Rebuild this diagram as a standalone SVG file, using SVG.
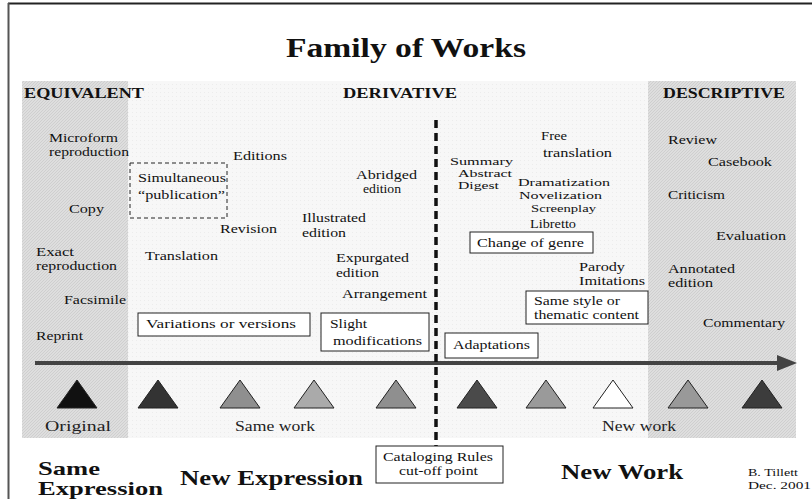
<svg xmlns="http://www.w3.org/2000/svg" width="812" height="499" viewBox="0 0 812 499">
<style>
text{font-family:"Liberation Serif","Times New Roman",serif;fill:#111}
.t{font-size:13px}
.n{font-size:11px}
.m{font-size:11.5px}
.h{font-size:15px;font-weight:bold}
.b{font-size:22px;font-weight:bold}
.b2{font-size:19px;font-weight:bold}
.l{font-size:15px;fill:#222}
.s{font-size:11px}
.box{fill:#fff;stroke:#222;stroke-width:1}
.tri{stroke:#222;stroke-width:1}
</style>
<defs>
<pattern id="hatch" width="3" height="3" patternUnits="userSpaceOnUse">
<rect width="3" height="3" fill="#dedede"/>
<path d="M0 3L3 0" stroke="#cfcfcf" stroke-width="1"/>
</pattern>
<pattern id="dots" width="4" height="4" patternUnits="userSpaceOnUse">
<rect width="4" height="4" fill="#f7f7f7"/>
<rect width="1" height="1" fill="#ececec"/>
</pattern>
<marker id="ah" viewBox="0 0 10 8" refX="0" refY="4" markerWidth="5" markerHeight="4" orient="auto" markerUnits="strokeWidth">
<path d="M0 0L10 4L0 8Z" fill="#444"/>
</marker>
</defs>
<rect width="812" height="499" fill="#fff"/>
<g id="frame">
<line x1="8" y1="3.5" x2="812" y2="3.5" stroke="#222" stroke-width="2"/>
<line x1="8.5" y1="3" x2="8.5" y2="499" stroke="#555" stroke-width="2"/>
</g>
<g id="bands">
<rect x="128" y="81" width="520" height="357" fill="url(#dots)"/>
<rect x="22" y="81" width="106" height="357" fill="url(#hatch)"/>
<rect x="648" y="81" width="148" height="357" fill="url(#hatch)"/>
</g>
<text id="title" x="286" y="57" font-size="28" font-weight="bold" textLength="240" lengthAdjust="spacingAndGlyphs">Family of Works</text>
<g id="headers">
<text class="h" x="24" y="98" textLength="120" lengthAdjust="spacingAndGlyphs">EQUIVALENT</text>
<text class="h" x="343" y="98" textLength="114" lengthAdjust="spacingAndGlyphs">DERIVATIVE</text>
<text class="h" x="663" y="98" textLength="122" lengthAdjust="spacingAndGlyphs">DESCRIPTIVE</text>
</g>
<g id="connectors">
<line x1="35" y1="363" x2="777" y2="363" stroke="#444" stroke-width="4" marker-end="url(#ah)"/>
<line x1="436" y1="120" x2="436" y2="446" stroke="#111" stroke-width="3.5" stroke-dasharray="8 5"/>
</g>
<g id="equivalent">
<text class="t" x="49" y="142" textLength="69" lengthAdjust="spacingAndGlyphs">Microform</text>
<text class="t" x="49" y="156" textLength="80" lengthAdjust="spacingAndGlyphs">reproduction</text>
<text class="t" x="69" y="213" textLength="35" lengthAdjust="spacingAndGlyphs">Copy</text>
<text class="t" x="36" y="256" textLength="38" lengthAdjust="spacingAndGlyphs">Exact</text>
<text class="t" x="36" y="270" textLength="81" lengthAdjust="spacingAndGlyphs">reproduction</text>
<text class="t" x="64" y="304" textLength="62" lengthAdjust="spacingAndGlyphs">Facsimile</text>
<text class="t" x="36" y="340" textLength="47" lengthAdjust="spacingAndGlyphs">Reprint</text>
</g>
<g id="derivative-same">
<rect x="130" y="163" width="97" height="55" fill="none" stroke="#222" stroke-width="1" stroke-dasharray="4 3"/>
<text class="t" x="138" y="182" textLength="88" lengthAdjust="spacingAndGlyphs">Simultaneous</text>
<text class="t" x="138" y="199" textLength="87" lengthAdjust="spacingAndGlyphs">“publication”</text>
<text class="t" x="233" y="160" textLength="54" lengthAdjust="spacingAndGlyphs">Editions</text>
<text class="t" x="220" y="233" textLength="57" lengthAdjust="spacingAndGlyphs">Revision</text>
<text class="t" x="145" y="260" textLength="73" lengthAdjust="spacingAndGlyphs">Translation</text>
<rect class="box" x="138" y="313" width="172" height="23"/>
<text class="t" x="146" y="328" textLength="150" lengthAdjust="spacingAndGlyphs">Variations or versions</text>
<text class="t" x="356" y="179" textLength="61" lengthAdjust="spacingAndGlyphs">Abridged</text>
<text class="t" x="363" y="193" textLength="38" lengthAdjust="spacingAndGlyphs">edition</text>
<text class="t" x="302" y="222" textLength="64" lengthAdjust="spacingAndGlyphs">Illustrated</text>
<text class="t" x="302" y="237" textLength="44" lengthAdjust="spacingAndGlyphs">edition</text>
<text class="t" x="336" y="262" textLength="73" lengthAdjust="spacingAndGlyphs">Expurgated</text>
<text class="t" x="336" y="277" textLength="43" lengthAdjust="spacingAndGlyphs">edition</text>
<text class="t" x="342" y="298" textLength="85" lengthAdjust="spacingAndGlyphs">Arrangement</text>
<rect class="box" x="321" y="313" width="108" height="38"/>
<text class="t" x="330" y="328" textLength="37" lengthAdjust="spacingAndGlyphs">Slight</text>
<text class="t" x="333" y="345" textLength="89" lengthAdjust="spacingAndGlyphs">modifications</text>
</g>
<g id="derivative-new">
<text class="n" x="450" y="165" textLength="63" lengthAdjust="spacingAndGlyphs">Summary</text>
<text class="n" x="458" y="177" textLength="54" lengthAdjust="spacingAndGlyphs">Abstract</text>
<text class="n" x="458" y="189" textLength="41" lengthAdjust="spacingAndGlyphs">Digest</text>
<text class="t" x="541" y="140" textLength="26" lengthAdjust="spacingAndGlyphs">Free</text>
<text class="t" x="543" y="157" textLength="69" lengthAdjust="spacingAndGlyphs">translation</text>
<text class="n" x="518" y="186" textLength="92" lengthAdjust="spacingAndGlyphs">Dramatization</text>
<text class="n" x="519" y="199" textLength="83" lengthAdjust="spacingAndGlyphs">Novelization</text>
<text class="n" x="531" y="212" textLength="65" lengthAdjust="spacingAndGlyphs">Screenplay</text>
<text class="t" x="530" y="228" textLength="46" lengthAdjust="spacingAndGlyphs">Libretto</text>
<rect class="box" x="470" y="232" width="123" height="21"/>
<text class="t" x="477" y="247" textLength="107" lengthAdjust="spacingAndGlyphs">Change of genre</text>
<text class="m" x="579" y="271" textLength="46" lengthAdjust="spacingAndGlyphs">Parody</text>
<text class="m" x="579" y="285" textLength="66" lengthAdjust="spacingAndGlyphs">Imitations</text>
<rect class="box" x="526" y="291" width="122" height="33"/>
<text class="m" x="534" y="305" textLength="86" lengthAdjust="spacingAndGlyphs">Same style or</text>
<text class="m" x="534" y="319" textLength="105" lengthAdjust="spacingAndGlyphs">thematic content</text>
<rect class="box" x="445" y="333" width="93" height="25"/>
<text class="t" x="453" y="349" textLength="77" lengthAdjust="spacingAndGlyphs">Adaptations</text>
</g>
<g id="descriptive">
<text class="t" x="668" y="144" textLength="49" lengthAdjust="spacingAndGlyphs">Review</text>
<text class="t" x="708" y="166" textLength="64" lengthAdjust="spacingAndGlyphs">Casebook</text>
<text class="t" x="668" y="199" textLength="57" lengthAdjust="spacingAndGlyphs">Criticism</text>
<text class="t" x="716" y="240" textLength="70" lengthAdjust="spacingAndGlyphs">Evaluation</text>
<text class="t" x="668" y="273" textLength="67" lengthAdjust="spacingAndGlyphs">Annotated</text>
<text class="t" x="668" y="287" textLength="45" lengthAdjust="spacingAndGlyphs">edition</text>
<text class="t" x="703" y="327" textLength="82" lengthAdjust="spacingAndGlyphs">Commentary</text>
</g>
<g id="triangles">
<polygon class="tri" points="57,408 77,380 97,408" fill="#111"/>
<polygon class="tri" points="138,408 158,380 178,408" fill="#333"/>
<polygon class="tri" points="220,408 240,380 260,408" fill="#8f8f8f"/>
<polygon class="tri" points="294,408 314,380 334,408" fill="#aaa"/>
<polygon class="tri" points="376,408 396,380 416,408" fill="#8f8f8f"/>
<polygon class="tri" points="457,408 477,380 497,408" fill="#4a4a4a"/>
<polygon class="tri" points="526,408 546,380 566,408" fill="#9a9a9a"/>
<polygon class="tri" points="593,408 613,380 633,408" fill="#fff"/>
<polygon class="tri" points="668,408 688,380 708,408" fill="#999"/>
<polygon class="tri" points="742,408 762,380 782,408" fill="#3c3c3c"/>
</g>
<g id="scale-labels">
<text class="l" x="45" y="431" textLength="66" lengthAdjust="spacingAndGlyphs">Original</text>
<text class="l" x="235" y="431" textLength="80" lengthAdjust="spacingAndGlyphs">Same work</text>
<text class="l" x="602" y="431" textLength="74" lengthAdjust="spacingAndGlyphs">New work</text>
</g>
<g id="cutoff">
<rect class="box" x="376" y="446" width="127" height="37"/>
<text class="t" x="383" y="461" textLength="110" lengthAdjust="spacingAndGlyphs">Cataloging Rules</text>
<text class="t" x="399" y="475" textLength="79" lengthAdjust="spacingAndGlyphs">cut-off point</text>
</g>
<g id="bottom-labels">
<text class="b2" x="38" y="475" textLength="62" lengthAdjust="spacingAndGlyphs">Same</text>
<text class="b2" x="38" y="495" textLength="125" lengthAdjust="spacingAndGlyphs">Expression</text>
<text class="b" x="180" y="485" textLength="183" lengthAdjust="spacingAndGlyphs">New Expression</text>
<text class="b" x="561" y="479" textLength="122" lengthAdjust="spacingAndGlyphs">New Work</text>
<text class="s" x="748" y="476" textLength="50" lengthAdjust="spacingAndGlyphs">B. Tillett</text>
<text class="s" x="748" y="489" textLength="63" lengthAdjust="spacingAndGlyphs">Dec. 2001</text>
</g>
</svg>
